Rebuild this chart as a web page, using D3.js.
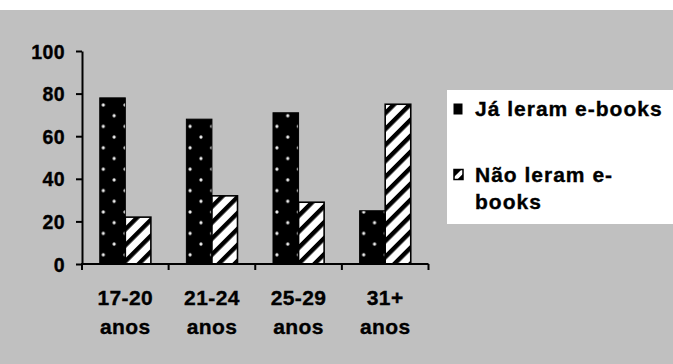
<!DOCTYPE html>
<html>
<head>
<meta charset="utf-8">
<script src="https://cdn.jsdelivr.net/npm/d3@7"></script>
<style>
  html, body { margin: 0; padding: 0; background: #fff; }
  svg { display: block; }
  text { font-family: "Liberation Sans", Arial, sans-serif; font-weight: bold; fill: #000; stroke: #000; stroke-width: 0.35px; }
</style>
</head>
<body>
<svg id="chart" width="673" height="364"></svg>
<script>
// ---- data ----
const categories = ["17-20 anos", "21-24 anos", "25-29 anos", "31+ anos"];
const categoryLines = [["17-20", "anos"], ["21-24", "anos"], ["25-29", "anos"], ["31+", "anos"]];
const seriesNames = ["Já leram e-books", "Não leram e-books"];
const leram = [78, 68, 71, 25];
const naoLeram = [22, 32, 29, 75];
const yTicks = [0, 20, 40, 60, 80, 100];

const svg = d3.select("#chart");
const W = 673, H = 364;

// background
svg.append("rect").attr("x", 0).attr("y", 10).attr("width", W).attr("height", H - 10).attr("fill", "#c0c0c0");

// patterns
const defs = svg.append("defs");
const dots = defs.append("pattern")
  .attr("id", "dots").attr("patternUnits", "userSpaceOnUse")
  .attr("width", 21.7).attr("height", 21.4)
  .attr("patternTransform", "translate(103.3,105)");
dots.append("rect").attr("width", 21.7).attr("height", 21.4).attr("fill", "#000");
[[0, 0], [21.7, 0], [0, 21.4], [21.7, 21.4], [10.85, 10.7]].forEach(p => {
  dots.append("circle").attr("cx", p[0]).attr("cy", p[1]).attr("r", 1.6).attr("fill", "#eeeeee");
});

const hatch = defs.append("pattern")
  .attr("id", "hatch").attr("patternUnits", "userSpaceOnUse")
  .attr("width", 11.3).attr("height", 11.3)
  .attr("patternTransform", "rotate(45)");
hatch.append("rect").attr("width", 11.3).attr("height", 11.3).attr("fill", "#fff");
hatch.append("rect").attr("x", 0).attr("width", 4.4).attr("height", 11.3).attr("fill", "#000");

const hatchSmall = defs.append("pattern")
  .attr("id", "hatchSmall").attr("patternUnits", "userSpaceOnUse")
  .attr("width", 9).attr("height", 9)
  .attr("patternTransform", "translate(454,170) rotate(45)");
hatchSmall.append("rect").attr("width", 9).attr("height", 9).attr("fill", "#fff");
hatchSmall.append("rect").attr("x", 0).attr("width", 5).attr("height", 9).attr("fill", "#000");

// scales
const x0 = d3.scaleBand().domain(categories).range([82, 428.5]).paddingInner(0).paddingOuter(0);
const bw = x0.bandwidth();
const x1 = d3.scaleBand().domain(seriesNames).range([17.75, bw - 17.75]).padding(0);
const y = d3.scaleLinear().domain([0, 100]).range([264, 51]);

const fills = ["url(#dots)", "url(#hatch)"];
const rows = categories.map((c, i) => ({ cat: c, vals: [leram[i], naoLeram[i]] }));

const g = svg.append("g");
rows.forEach(r => {
  r.vals.forEach((v, j) => {
    g.append("rect")
      .attr("x", x0(r.cat) + x1(seriesNames[j]))
      .attr("y", y(v))
      .attr("width", x1.bandwidth())
      .attr("height", y(0) - y(v))
      .attr("fill", fills[j])
      .attr("stroke", "#000")
      .attr("stroke-width", j === 0 ? 1 : 1.6);
  });
});

// y axis
const yAxis = svg.append("g")
  .attr("transform", "translate(82,0)")
  .call(d3.axisLeft(y).tickValues(yTicks).tickSize(6).tickSizeOuter(0).tickPadding(11));
yAxis.select(".domain").attr("stroke", "#000").attr("stroke-width", 2);
yAxis.selectAll(".tick line").attr("stroke", "#000").attr("stroke-width", 2);
yAxis.selectAll(".tick text")
  .style("font-family", "'Liberation Sans', Arial, sans-serif")
  .style("font-weight", "bold")
  .style("font-size", "19.5px")
  .style("letter-spacing", "0.4px")
  .style("stroke", "#000").style("stroke-width", "0.35px")
  .attr("fill", "#000")
  .attr("dy", "0.36em");

// x axis
const xa = svg.append("g");
const [xr0, xr1] = x0.range();
xa.append("line").attr("x1", xr0 - 1).attr("x2", xr1).attr("y1", y(0)).attr("y2", y(0))
  .attr("stroke", "#000").attr("stroke-width", 2);
const tickXs = categories.map(c => x0(c)).concat([xr1]);
tickXs.forEach(tx => {
  xa.append("line").attr("x1", tx).attr("x2", tx).attr("y1", y(0)).attr("y2", y(0) + 6)
    .attr("stroke", "#000").attr("stroke-width", 2);
});
categories.forEach((c, i) => {
  const t = xa.append("text")
    .attr("x", x0(c) + bw / 2)
    .attr("text-anchor", "middle")
    .style("font-size", "21px")
    .style("letter-spacing", "0.4px");
  t.append("tspan").attr("x", x0(c) + bw / 2).attr("y", 304.5).text(categoryLines[i][0]);
  t.append("tspan").attr("x", x0(c) + bw / 2).attr("y", 333.5).text(categoryLines[i][1]);
});

// legend
const lg = svg.append("g");
lg.append("rect").attr("x", 447).attr("y", 90).attr("width", W - 447).attr("height", 134).attr("fill", "#fff");
lg.append("rect").attr("x", 453.5).attr("y", 103.5).attr("width", 9).attr("height", 11).attr("fill", "#000");
lg.append("rect").attr("x", 454).attr("y", 169.5).attr("width", 9).attr("height", 10)
  .attr("fill", "url(#hatchSmall)").attr("stroke", "#000").attr("stroke-width", 1.5);
lg.append("text").attr("x", 475).attr("y", 116)
  .style("font-size", "21px").style("letter-spacing", "1px").text(seriesNames[0]);
const t2 = lg.append("text").style("font-size", "21px").style("letter-spacing", "1px");
t2.append("tspan").attr("x", 475).attr("y", 181.5).text("Não leram e-");
t2.append("tspan").attr("x", 475).attr("y", 209).text("books");
</script>
</body>
</html>
